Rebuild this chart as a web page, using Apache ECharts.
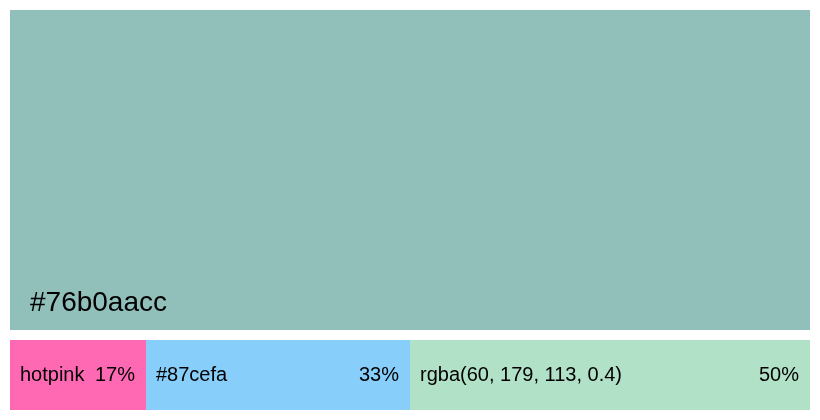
<!DOCTYPE html>
<html>
<head>
<meta charset="utf-8">
<script src="https://cdn.jsdelivr.net/npm/echarts@6/dist/echarts.min.js"></script>
<style>
html,body{margin:0;padding:0;background:#fff;}
#c{width:820px;height:420px;}
</style>
</head>
<body>
<div id="c"></div>
<script>
const topNames = ['#76b0aacc'];
const topValues = [100];
const colorNames = ['hotpink', '#87cefa', 'rgba(60, 179, 113, 0.4)'];
const shareValues = [17, 33, 50];
const totalMax = 100;

const chart = echarts.init(document.getElementById('c'), null, {renderer: 'canvas'});
const font = '"Liberation Sans", Arial, sans-serif';

const series = [];
series.push({
  type: 'bar', xAxisIndex: 0, yAxisIndex: 0,
  barWidth: '100%',
  data: topValues.map((v, i) => ({value: v, name: topNames[i], itemStyle: {color: topNames[i]}})),
  label: {
    show: true, position: [20, 293], verticalAlign: 'middle', align: 'left',
    formatter: p => p.name, fontSize: 28, color: '#000', fontFamily: font
  },
  silent: true, animation: false
});
colorNames.forEach((n, i) => {
  series.push({
    type: 'bar', xAxisIndex: 1, yAxisIndex: 1, stack: 'colors', barWidth: '100%',
    name: n,
    data: [shareValues[i]],
    itemStyle: {color: n},
    label: {show: true, position: 'insideLeft', distance: 10, formatter: () => n,
      fontSize: 20, color: '#000', fontFamily: font},
    silent: true, animation: false
  });
});
colorNames.forEach((n, i) => {
  series.push({
    type: 'bar', xAxisIndex: 1, yAxisIndex: 1, stack: 'pct', barWidth: '100%', barGap: '-100%',
    data: [shareValues[i]],
    itemStyle: {color: 'rgba(0,0,0,0)'},
    label: {show: true, position: 'insideRight', distance: 11, formatter: p => p.value + '%',
      fontSize: 20, color: '#000', fontFamily: font},
    silent: true, animation: false
  });
});

chart.setOption({
  animation: false,
  grid: [
    {left: 10, top: 10, width: 800, height: 320},
    {left: 10, top: 340, width: 800, height: 70}
  ],
  xAxis: [
    {type: 'value', gridIndex: 0, min: 0, max: 100, show: false},
    {type: 'value', gridIndex: 1, min: 0, max: totalMax, show: false}
  ],
  yAxis: [
    {type: 'category', gridIndex: 0, data: topNames, show: false},
    {type: 'category', gridIndex: 1, data: ['share'], show: false}
  ],
  series: series
});
</script>
</body>
</html>
